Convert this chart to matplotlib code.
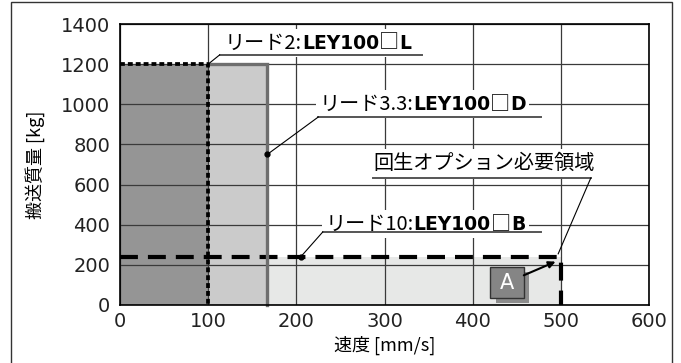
import matplotlib
matplotlib.use("Agg")
import matplotlib.pyplot as plt
from matplotlib.offsetbox import TextArea, HPacker, AnnotationBbox
from matplotlib.patches import Rectangle

plt.rcParams['font.family'] = ['Noto Sans CJK JP', 'DejaVu Sans']

# data
speed_ticks = [0, 100, 200, 300, 400, 500, 600]
mass_ticks = [0, 200, 400, 600, 800, 1000, 1200, 1400]
lead_names = ['2', '3.3', '10']
model_codes = ['L', 'D', 'B']
max_speed = [100, 167, 500]
max_load = [1200, 1200, 240]
line_start = [0, 100, 0]
region_start = [0, 100, 167]
regen_corner = (497, 255)
x_label = '速度 [mm/s]'
y_label = '搬送質量 [kg]'
regen_label = '回生オプション必要領域'

# style
fill_colors = ['#959595', '#cbcbcb', '#e7e8e7']
line_colors = ['black', '#6e6e6e', 'black']
line_widths = [2.7, 2.4, 3.0]
line_styles = [(0, (1.3, 0.8)), '-', (0, (4.3, 2.4))]

fig = plt.figure(figsize=(6.81, 3.63), dpi=100)
ax = fig.add_axes([120 / 681, 1 - 305 / 363, 529 / 681, 281 / 363])

# outer frame
fig.patches.append(Rectangle((10.5 / 681, -0.05), 661 / 681, 1.05 - 2.5 / 363,
                             transform=fig.transFigure, fill=False,
                             ec='#333333', lw=1.0))

for i in range(3):
    ax.bar(region_start[i], max_load[i], width=max_speed[i] - region_start[i],
           align='edge', color=fill_colors[i], zorder=1 + (2 - i) * 0.1)

for i in [2, 1, 0]:
    ax.plot([line_start[i], max_speed[i], max_speed[i]],
            [max_load[i], max_load[i], 0],
            color=line_colors[i], lw=line_widths[i], ls=line_styles[i],
            solid_joinstyle='miter', dash_capstyle='butt', zorder=4 + (2 - i) * 0.1,
            clip_on=False)

ax.set_xlim(0, 600)
ax.set_ylim(0, 1400)
ax.set_xticks(speed_ticks)
ax.set_yticks(mass_ticks)
ax.set_axisbelow(False)
ax.grid(True, color='#3a3a3a', lw=0.9)
ax.tick_params(length=0, labelsize=14, labelcolor='#222222')
ax.tick_params(axis='y', pad=7)
ax.tick_params(axis='x', pad=5)
for lab in ax.get_xticklabels() + ax.get_yticklabels():
    lab.set_family('DejaVu Sans')
for s in ax.spines.values():
    s.set_linewidth(1.2)
    s.set_zorder(6)

ax.set_xlabel(x_label, fontsize=13)
ax.xaxis.label.set_va('center')
ax.xaxis.set_label_coords(0.5, (305 - 345) / 281)
ax.set_ylabel(y_label, fontsize=13)
ax.yaxis.label.set_va('center')
ax.yaxis.set_label_coords((35 - 120) / 529, 0.5)


def put_label(parts, xy, underline, leader_to, dot=True):
    areas = []
    for txt, bold in parts:
        if bold:
            props = dict(fontsize=13.5, fontweight='bold', family='DejaVu Sans')
        else:
            props = dict(fontsize=14.5, family=['Noto Sans CJK JP', 'DejaVu Sans'])
        areas.append(TextArea(txt, textprops=props))
    box = HPacker(children=areas, align='baseline', pad=0, sep=0)
    ab = AnnotationBbox(box, xy, xycoords='data', box_alignment=(0, 0.5),
                        frameon=True, pad=0.25,
                        bboxprops=dict(fc='white', ec='none'),
                        annotation_clip=False, zorder=7)
    ax.add_artist(ab)
    x0, x1, yu = underline
    ax.plot([x0, x1], [yu, yu], color='#555555', lw=1.4, zorder=8, clip_on=False)
    ax.plot([leader_to[0], x0 if leader_to[0] < x0 else x1],
            [leader_to[1], yu], color='black', lw=0.8, zorder=8, clip_on=False)
    if dot:
        ax.plot(*leader_to, 'o', color='black', ms=3.5, zorder=9)


label_pos = [(119, 1305), (226, 1000), (233, 402)]
underlines = [(113, 342, 1246), (225, 478, 937), (230, 477, 364)]
leader_ends = [(max_speed[0], max_load[0]), (max_speed[1], 750), (205, max_load[2])]
for i in range(3):
    parts = [('リード' + lead_names[i] + ':', False), ('LEY100', True),
             ('□', False), (model_codes[i], True)]
    put_label(parts, label_pos[i], underlines[i], leader_ends[i], dot=(i > 0))

put_label([(regen_label, False)], (287, 707), (287, 534, 633), regen_corner, dot=False)

# "A" marker box with shadow
ax.add_patch(Rectangle((426, 10), 38, 154, fc='#8c8c8c', ec='none', zorder=7))
ax.add_patch(Rectangle((420, 35), 38, 154, fc='#858585', ec='#333333', lw=1.0, zorder=7.5))
ax.text(439, 112, 'A', ha='center', va='center', color='white', fontsize=15,
        family='DejaVu Sans', zorder=8)
ax.annotate('', xy=(494, 216), xytext=(458, 148),
            arrowprops=dict(arrowstyle='-|>', color='black', lw=1.5,
                            mutation_scale=10, shrinkA=0, shrinkB=0), zorder=8)

fig.savefig('out.png', dpi=100)
